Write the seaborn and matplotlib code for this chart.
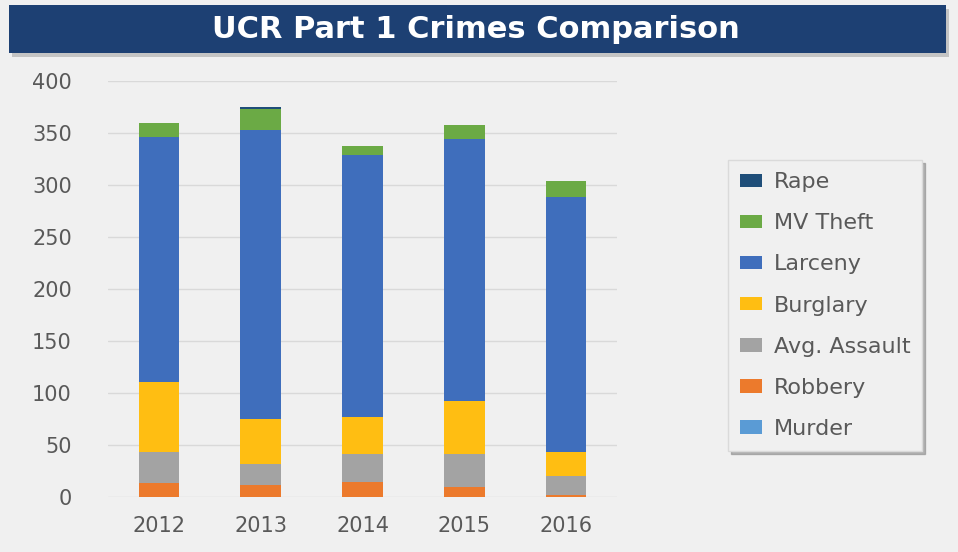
import matplotlib
matplotlib.use("Agg")
import matplotlib.pyplot as plt
from matplotlib.patches import Rectangle, Patch
import numpy as np
import pandas as pd
import seaborn as sns

# Yearly counts of UCR Part 1 offences
years = [2012, 2013, 2014, 2015, 2016]
murder = [0, 0, 0, 0, 0]
robbery = [13, 11.5, 14.5, 10, 1.5]
aggravated_assault = [30, 20.5, 27, 31.5, 19]
burglary = [68, 43, 35, 51, 23]
larceny = [235, 277.5, 252, 251.5, 245]
mv_theft = [14, 21, 9, 13.5, 15]
rape = [0, 1.5, 0, 0, 0]

# Legend order (top of stack first)
categories = ["Rape", "MV Theft", "Larceny", "Burglary", "Avg. Assault", "Robbery", "Murder"]
series = {
    "Rape": rape,
    "MV Theft": mv_theft,
    "Larceny": larceny,
    "Burglary": burglary,
    "Avg. Assault": aggravated_assault,
    "Robbery": robbery,
    "Murder": murder,
}
colors = {
    "Rape": "#1F4E79",
    "MV Theft": "#6BAA45",
    "Larceny": "#3F6EBC",
    "Burglary": "#FFBE12",
    "Avg. Assault": "#A3A3A3",
    "Robbery": "#EC7A2C",
    "Murder": "#5A9BD5",
}
yticks = [0, 50, 100, 150, 200, 250, 300, 350, 400]

rows = []
for cat in categories:
    for yr, v in zip(years, series[cat]):
        rows.append({"Year": yr, "Crime": cat, "Count": v})
df = pd.DataFrame(rows)

bg = "#F0F0F0"
sns.set_style("white")
plt.rcParams["font.family"] = ["DejaVu Sans"]

fig = plt.figure(figsize=(9.58, 5.52), dpi=100, facecolor=bg)
W, H = 958, 552

# Title banner with drop shadow
fig.patches.append(Rectangle((12 / W, 1 - 57 / H), 937 / W, 48 / H, transform=fig.transFigure,
                             facecolor="#9A9A9A", edgecolor="none", alpha=0.5, zorder=0))
fig.patches.append(Rectangle((9 / W, 1 - 53 / H), 937 / W, 48 / H, transform=fig.transFigure,
                             facecolor="#1D4073", edgecolor="none", zorder=1))
fig.text(476 / W, 1 - 30 / H, "UCR Part 1 Crimes Comparison", color="white",
         fontsize=22, fontweight="semibold", ha="center", va="center", zorder=2)

ax = fig.add_axes([108 / W, 55 / H, 509 / W, 416 / H])
ax.set_facecolor(bg)

sns.histplot(data=df, x="Year", hue="Crime", weights="Count", hue_order=categories,
             multiple="stack", discrete=True, shrink=0.4, palette=colors,
             alpha=1, linewidth=0, legend=False, ax=ax)

ax.set_ylim(0, 400)
ax.set_xlim(years[0] - 0.5, years[-1] + 0.5)
ax.set_yticks(yticks)
ax.set_xticks(years)
ax.set_xticklabels([str(y) for y in years])
ax.grid(axis="y", color="#D9D9D9", linewidth=1)
ax.set_axisbelow(True)
for s in ax.spines.values():
    s.set_visible(False)
ax.tick_params(axis="both", length=0, labelsize=15, labelcolor="#595959")
ax.tick_params(axis="y", pad=26)
ax.tick_params(axis="x", pad=14)
ax.set_xlabel("")
ax.set_ylabel("")

handles = [Patch(facecolor=colors[c], edgecolor="none", label=c) for c in categories]
leg = fig.legend(handles=handles, loc="upper left",
                 bbox_to_anchor=(728 / W, 1 - 160 / H), frameon=True,
                 fontsize=16, labelcolor="#595959", handlelength=1.0, handleheight=0.55,
                 handletextpad=0.5, labelspacing=0.95, borderpad=0.55, borderaxespad=0,
                 fancybox=False, shadow={"color": "#8A8A8A", "alpha": 0.6})
leg.get_frame().set_facecolor(bg)
leg.get_frame().set_edgecolor("#DADADA")

fig.savefig("out.png", dpi=100, facecolor=bg)
